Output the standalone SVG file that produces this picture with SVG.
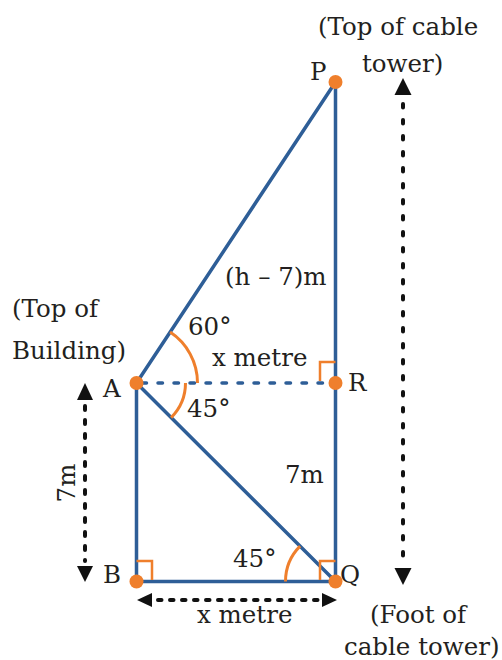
<svg xmlns="http://www.w3.org/2000/svg" width="502" height="660" viewBox="0 0 502 660">
<style>
.edge{stroke:#2e5e97;stroke-width:3.5;fill:none;stroke-linecap:round}
.dash{stroke:#2e5e97;stroke-width:3.5;fill:none;stroke-linecap:round;stroke-dasharray:4.5 11.5}
.arc{stroke:#ef7f2c;stroke-width:3;fill:none}
.ra{stroke:#ef7f2c;stroke-width:2.5;fill:none}
.dot{fill:#ef7f2c}
.dim{stroke:#111;stroke-width:4;fill:none;stroke-linecap:round}
.head{fill:#111}
text{font-family:"DejaVu Serif","Liberation Serif",serif;font-size:24.5px;fill:#231f20}
</style>
<g id="connectors">
<line class="edge" x1="136.5" y1="383" x2="335.5" y2="82"/>
<line class="edge" x1="335.5" y1="82" x2="335.5" y2="581.5"/>
<line class="edge" x1="136.5" y1="383" x2="136.5" y2="581.5"/>
<line class="edge" x1="136.5" y1="581.5" x2="335.5" y2="581.5"/>
<line class="edge" x1="136.5" y1="383" x2="335.5" y2="581.5"/>
<line class="dash" x1="142" y1="383" x2="330" y2="383"/>
<path class="arc" d="M170.1,332.1 A61,61 0 0 1 197.5,383"/>
<path class="arc" d="M185.5,383 A49,49 0 0 1 171.1,417.6"/>
<path class="arc" d="M285.5,581.5 A50,50 0 0 1 300.1,546.1"/>
<polyline class="ra" points="320,381 320,362 335.5,362"/>
<polyline class="ra" points="136.5,561 152,561 152,580"/>
<polyline class="ra" points="320,580 320,561 335.5,561"/>
<line class="dim" x1="403" y1="104" x2="403" y2="560" stroke-dasharray="3.5 12.5"/>
<polygon class="head" points="403,78 394.5,95 411.5,95"/>
<polygon class="head" points="403,585 394.5,568 411.5,568"/>
<line class="dim" x1="85" y1="406" x2="85" y2="561" stroke-dasharray="4 10"/>
<polygon class="head" points="85,383 77,400 93,400"/>
<polygon class="head" points="85,582 77,566 93,566"/>
<line class="dim" x1="158" y1="600" x2="318" y2="600" stroke-dasharray="3.5 8.5"/>
<polygon class="head" points="137,600 152,593 152,607"/>
<polygon class="head" points="337,600 322,593 322,607"/>
</g>
<g id="P"><circle class="dot" cx="335.5" cy="82" r="7"/><text x="310" y="80">P</text></g>
<g id="A"><circle class="dot" cx="136.5" cy="383" r="7"/><text x="103" y="397">A</text></g>
<g id="R"><circle class="dot" cx="335.5" cy="383" r="7"/><text x="348" y="391">R</text></g>
<g id="B"><circle class="dot" cx="136.5" cy="581.5" r="7"/><text x="103" y="583">B</text></g>
<g id="Q"><circle class="dot" cx="335.5" cy="581.5" r="7"/><text x="340" y="583">Q</text></g>
<g id="labels">
<text x="318" y="35">(Top of cable</text>
<text x="362" y="72">tower)</text>
<text x="225" y="285">(h – 7)m</text>
<text x="12" y="317">(Top of</text>
<text x="12" y="359">Building)</text>
<text x="188" y="335">60°</text>
<text x="212" y="366">x metre</text>
<text x="187" y="417">45°</text>
<text x="285" y="483">7m</text>
<text transform="translate(75,483) rotate(-90)" text-anchor="middle">7m</text>
<text x="233" y="567">45°</text>
<text x="197" y="623">x metre</text>
<text x="370" y="623">(Foot of</text>
<text x="344" y="655">cable tower)</text>
</g>
</svg>
